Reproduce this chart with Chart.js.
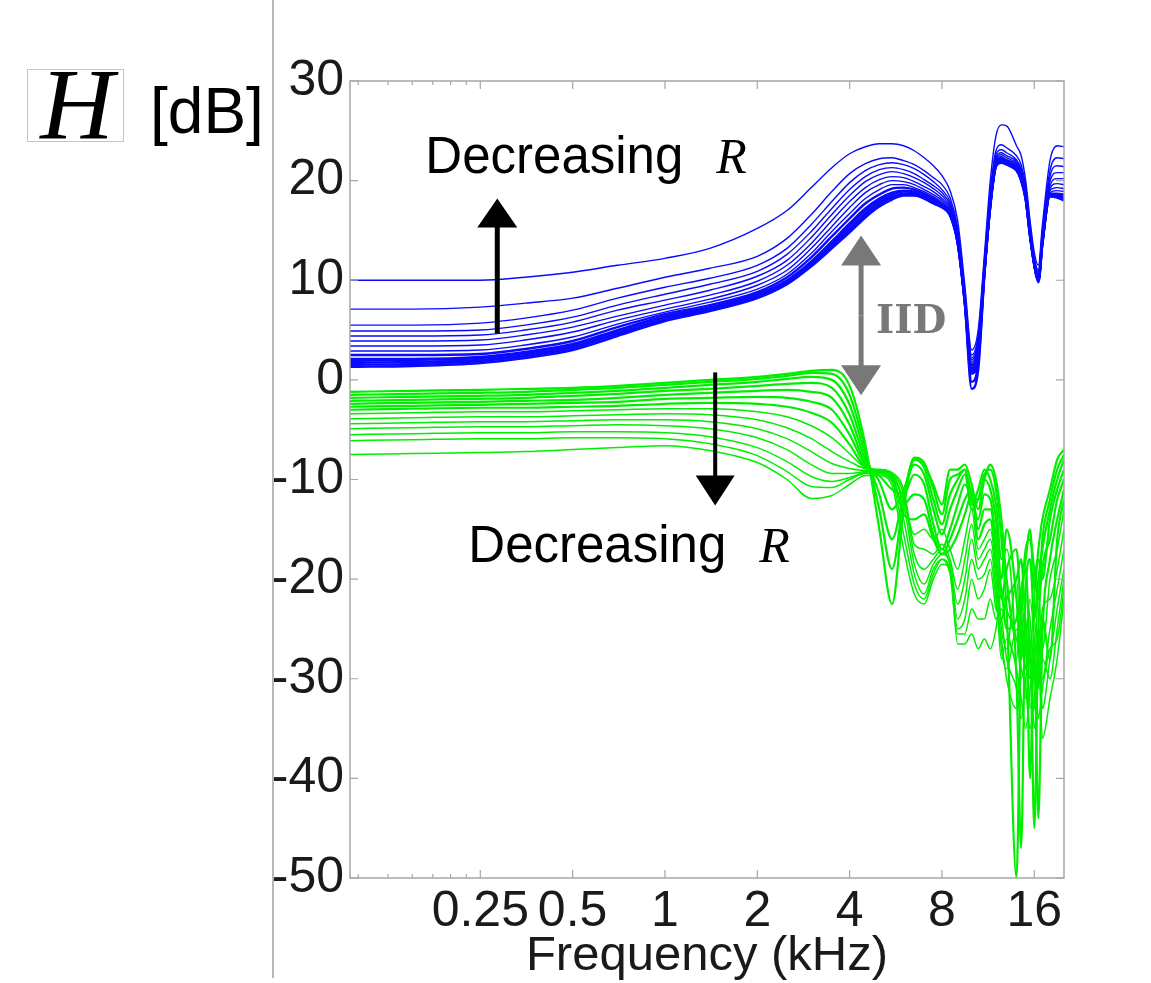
<!DOCTYPE html>
<html>
<head>
<meta charset="utf-8">
<title>H [dB] vs frequency</title>
<script src="https://cdn.jsdelivr.net/npm/chart.js@4.4.1/dist/chart.umd.min.js"></script>
<style>
  html, body { margin: 0; padding: 0; background: #fff; }
  #wrap { width: 1151px; height: 983px; }
</style>
</head>
<body>
<div id="wrap"><canvas id="chart" width="1151" height="983"></canvas></div>
<script>
// frequency grid, kHz
const freqs = [0.094, 0.15, 0.25, 0.35, 0.5, 0.7, 1, 1.4, 2, 2.5, 3, 3.5, 4, 4.5, 5, 5.5, 6, 6.5, 7, 7.5,
               8, 8.5, 9, 9.5, 10, 10.5, 11, 11.5, 12, 12.5, 13, 14, 14.5, 15, 15.5, 16, 16.5, 17, 18, 19, 20];

const xTicks = [0.25, 0.5, 1, 2, 4, 8, 16];
const xMinorTicks = [0.1, 0.125, 0.15, 0.175, 0.2, 0.225];
const yTicks = [30, 20, 10, 0, -10, -20, -30, -40, -50];

// near ear (blue), top curve first
const ipsi0  = [10.0, 10.0, 10.0, 10.3, 10.8, 11.5, 12.2, 13.2, 15.2, 17.0, 19.3, 21.3, 22.7, 23.4, 23.7, 23.7, 23.5, 23.0, 22.3, 21.5,
                20.5, 19.0, 16.0, 9.5, 3.0, 5.0, 12.5, 20.0, 24.5, 25.6, 25.5, 23.5, 22.5, 20.0, 16.0, 12.8, 11.5, 15.5, 22.0, 23.5, 23.4];
const ipsi1  = [7.1, 7.1, 7.3, 7.7, 8.2, 9.2, 10.3, 11.2, 12.4, 14.2, 16.6, 18.9, 20.7, 21.7, 22.2, 22.3, 22.0, 21.6, 21.0, 20.3,
                19.6, 18.3, 15.3, 9.0, 2.5, 4.5, 12.0, 19.0, 23.0, 23.6, 23.3, 22.5, 21.6, 19.5, 15.6, 12.3, 11.0, 15.0, 21.0, 22.3, 22.2];
const ipsi2  = [5.5, 5.5, 5.7, 6.2, 7.0, 8.2, 9.3, 10.2, 11.5, 13.2, 15.6, 17.9, 19.8, 21.0, 21.6, 21.8, 21.6, 21.2, 20.6, 19.9,
                19.1, 17.9, 15.0, 8.8, 2.2, 4.2, 11.7, 18.6, 22.6, 23.1, 22.8, 22.1, 21.2, 19.2, 15.4, 12.1, 10.8, 14.7, 20.4, 21.5, 21.4];
const ipsi3  = [4.9, 4.9, 5.0, 5.5, 6.3, 7.5, 8.6, 9.6, 10.9, 12.6, 14.9, 17.2, 19.1, 20.4, 21.1, 21.3, 21.1, 20.7, 20.1, 19.5,
                18.8, 17.6, 14.8, 8.6, 2.0, 4.0, 11.5, 18.4, 22.3, 22.8, 22.5, 21.9, 21.0, 19.0, 15.2, 12.0, 10.6, 14.5, 19.9, 20.8, 20.8];
const ipsi4  = [4.4, 4.4, 4.5, 5.0, 5.8, 7.0, 8.0, 9.0, 10.4, 12.0, 14.3, 16.6, 18.5, 19.9, 20.6, 20.9, 20.7, 20.3, 19.8, 19.2,
                18.5, 17.4, 14.6, 8.5, 1.8, 3.8, 11.3, 18.2, 22.1, 22.6, 22.3, 21.7, 20.8, 18.8, 15.1, 11.9, 10.5, 14.3, 19.5, 20.2, 20.2];
const ipsi5  = [3.9, 3.9, 4.0, 4.5, 5.3, 6.4, 7.5, 8.5, 9.9, 11.5, 13.7, 16.0, 17.9, 19.3, 20.1, 20.4, 20.3, 19.9, 19.4, 18.9,
                18.2, 17.2, 14.4, 8.3, 1.6, 3.6, 11.2, 18.0, 22.0, 22.4, 22.1, 21.6, 20.6, 18.7, 15.0, 11.8, 10.4, 14.2, 19.2, 19.7, 19.6];
const ipsi6  = [3.4, 3.4, 3.5, 4.0, 4.8, 6.0, 7.1, 8.1, 9.5, 11.0, 13.2, 15.4, 17.3, 18.8, 19.6, 20.0, 19.9, 19.6, 19.1, 18.6,
                18.0, 17.0, 14.2, 8.2, 1.5, 3.4, 11.1, 17.9, 21.9, 22.3, 22.0, 21.5, 20.5, 18.6, 14.9, 11.8, 10.3, 14.1, 19.0, 19.3, 19.2];
const ipsi7  = [2.9, 2.9, 3.0, 3.5, 4.3, 5.6, 6.8, 7.8, 9.1, 10.6, 12.7, 14.9, 16.7, 18.2, 19.1, 19.6, 19.6, 19.3, 18.9, 18.4,
                17.8, 16.9, 14.1, 8.1, 1.4, 3.2, 11.0, 17.8, 21.8, 22.2, 21.9, 21.4, 20.4, 18.5, 14.8, 11.7, 10.2, 14.0, 18.8, 19.0, 18.9];
const ipsi8  = [2.5, 2.5, 2.6, 3.1, 3.9, 5.3, 6.6, 7.5, 8.8, 10.3, 12.3, 14.4, 16.2, 17.7, 18.6, 19.2, 19.3, 19.1, 18.7, 18.2,
                17.6, 16.8, 14.0, 8.0, 1.2, 3.0, 10.9, 17.7, 21.7, 22.1, 21.8, 21.3, 20.3, 18.4, 14.7, 11.7, 10.1, 13.9, 18.7, 18.7, 18.6];
const ipsi9  = [2.1, 2.1, 2.3, 2.8, 3.6, 5.0, 6.4, 7.3, 8.6, 10.0, 11.9, 13.9, 15.7, 17.2, 18.2, 18.8, 19.0, 18.9, 18.5, 18.0,
                17.5, 16.7, 13.9, 7.9, 1.0, 2.7, 10.8, 17.6, 21.6, 22.0, 21.8, 21.2, 20.2, 18.3, 14.6, 11.6, 10.0, 13.8, 18.6, 18.5, 18.4];
const ipsi10 = [1.9, 2.0, 2.2, 2.7, 3.5, 4.9, 6.3, 7.2, 8.5, 9.9, 11.8, 13.7, 15.5, 17.0, 18.0, 18.6, 18.9, 18.8, 18.4, 17.9,
                17.5, 16.7, 13.9, 7.9, 0.8, 2.5, 10.8, 17.6, 21.6, 22.0, 21.8, 21.2, 20.2, 18.3, 14.6, 11.6, 10.0, 13.8, 18.6, 18.5, 18.3];
const ipsi11 = [1.7, 1.8, 2.0, 2.5, 3.3, 4.7, 6.1, 7.1, 8.4, 9.8, 11.6, 13.5, 15.2, 16.7, 17.8, 18.4, 18.7, 18.7, 18.3, 17.8,
                17.4, 16.6, 13.8, 7.8, 0.6, 2.3, 10.7, 17.5, 21.5, 21.9, 21.7, 21.1, 20.1, 18.2, 14.5, 11.6, 9.9, 13.7, 18.5, 18.4, 18.2];
const ipsi12 = [1.5, 1.6, 1.9, 2.4, 3.2, 4.6, 6.0, 7.0, 8.3, 9.7, 11.5, 13.4, 15.0, 16.5, 17.6, 18.3, 18.6, 18.6, 18.3, 17.8,
                17.4, 16.6, 13.8, 7.7, -0.2, 1.6, 10.6, 17.5, 21.5, 21.9, 21.7, 21.1, 20.1, 18.2, 14.5, 11.6, 9.9, 13.7, 18.5, 18.4, 18.1];
const ipsi13 = [1.3, 1.4, 1.7, 2.2, 3.0, 4.4, 5.9, 6.9, 8.2, 9.6, 11.4, 13.2, 14.8, 16.3, 17.4, 18.1, 18.5, 18.5, 18.2, 17.7,
                17.3, 16.5, 13.7, 7.6, -0.9, 1.0, 10.5, 17.4, 21.4, 21.8, 21.6, 21.0, 20.0, 18.1, 14.4, 11.5, 9.8, 13.6, 18.4, 18.3, 18.0];

// far ear (green), top curve first
const contra0  = [-1.2, -1.1, -1.0, -0.9, -0.8, -0.6, -0.3, 0.0, 0.3, 0.6, 0.9, 1.0, -0.6, -6.5, -15.0, -22.5, -13.0, -8.0, -8.5, -10.5,
                  -12.5, -9.0, -9.0, -8.5, -10.5, -13.0, -10.0, -8.5, -10.0, -14.0, -20.0, -26.0, -22.0, -18.0, -15.0, -21.0, -17.0, -14.0, -11.0, -8.0, -7.0];
const contra1  = [-1.5, -1.4, -1.3, -1.2, -1.0, -0.8, -0.5, -0.2, 0.1, 0.4, 0.7, 0.6, -1.5, -7.0, -13.0, -19.0, -12.0, -7.8, -8.3, -11.0,
                  -13.5, -10.0, -9.5, -9.0, -11.5, -12.0, -9.5, -9.0, -11.0, -16.0, -23.0, -50.0, -25.0, -17.0, -16.0, -19.0, -22.0, -16.0, -12.0, -9.0, -7.5];
const contra2  = [-1.8, -1.7, -1.6, -1.5, -1.3, -1.1, -0.8, -0.5, -0.2, 0.1, 0.3, 0.0, -2.5, -7.5, -11.5, -16.0, -11.5, -8.0, -8.8, -12.0,
                  -14.5, -11.5, -10.0, -9.0, -12.5, -11.0, -9.0, -10.0, -12.5, -18.0, -17.0, -30.0, -47.0, -21.0, -18.0, -24.0, -20.0, -17.0, -13.0, -10.0, -8.0];
const contra3  = [-2.1, -2.0, -1.9, -1.8, -1.6, -1.4, -1.1, -0.9, -0.6, -0.4, -0.3, -0.8, -3.5, -8.0, -10.2, -13.0, -11.0, -8.5, -9.5, -13.0,
                  -15.5, -13.0, -11.0, -9.5, -13.0, -12.0, -10.0, -11.0, -14.0, -20.0, -15.0, -22.0, -28.0, -24.0, -40.0, -22.0, -18.0, -20.0, -14.0, -11.0, -9.0];
const contra4  = [-2.4, -2.3, -2.2, -2.1, -2.0, -1.8, -1.5, -1.3, -1.1, -1.0, -1.2, -1.8, -4.5, -8.4, -9.6, -11.0, -11.5, -9.5, -10.5, -14.5,
                  -17.0, -15.0, -12.5, -10.5, -12.0, -14.0, -11.5, -12.0, -16.0, -22.0, -19.0, -17.0, -24.0, -29.0, -26.0, -45.0, -25.0, -19.0, -16.0, -12.0, -10.0];
const contra5  = [-2.7, -2.6, -2.5, -2.4, -2.3, -2.2, -1.9, -1.8, -1.7, -1.8, -2.2, -3.0, -5.5, -8.6, -9.3, -10.0, -12.5, -11.5, -12.0, -15.5,
                  -17.5, -16.0, -14.0, -12.0, -11.0, -15.0, -13.0, -13.0, -17.0, -24.0, -22.0, -20.0, -18.0, -25.0, -30.0, -28.0, -44.0, -26.0, -18.0, -14.0, -11.0];
const contra6  = [-3.0, -2.9, -2.8, -2.8, -2.7, -2.6, -2.4, -2.3, -2.4, -2.7, -3.3, -4.3, -6.5, -8.8, -9.2, -9.6, -13.5, -14.0, -13.5, -16.0,
                  -17.5, -17.0, -15.5, -13.5, -11.5, -16.0, -14.5, -14.0, -18.0, -21.0, -25.0, -24.0, -21.0, -19.0, -28.0, -33.0, -27.0, -24.0, -28.0, -16.0, -12.0];
const contra7  = [-3.4, -3.3, -3.2, -3.2, -3.1, -3.0, -2.9, -2.9, -3.2, -3.7, -4.6, -5.8, -7.4, -8.8, -9.0, -9.4, -12.0, -15.5, -15.0, -16.0,
                  -15.0, -17.0, -19.0, -16.0, -13.0, -17.0, -16.0, -15.0, -19.0, -25.0, -27.0, -20.0, -26.0, -22.0, -24.0, -30.0, -21.0, -27.0, -20.0, -17.0, -13.0];
const contra8  = [-3.9, -3.8, -3.7, -3.7, -3.6, -3.5, -3.4, -3.5, -4.0, -4.8, -5.9, -7.2, -8.2, -8.9, -9.0, -9.3, -11.0, -16.5, -17.0, -17.5,
                  -16.5, -18.0, -21.0, -18.0, -14.5, -18.0, -17.0, -16.0, -20.0, -27.0, -29.0, -25.0, -30.0, -27.0, -22.0, -26.0, -31.0, -23.0, -22.0, -19.0, -15.0];
const contra9  = [-4.4, -4.3, -4.2, -4.2, -4.1, -4.0, -4.0, -4.2, -4.9, -5.9, -7.2, -8.4, -8.9, -9.1, -9.0, -9.4, -11.5, -17.5, -19.0, -18.0,
                  -17.0, -18.5, -22.5, -20.0, -16.0, -19.0, -18.0, -17.0, -21.0, -28.0, -26.0, -28.0, -23.0, -32.0, -27.0, -24.0, -29.0, -30.0, -25.0, -21.0, -17.0];
const contra10 = [-4.9, -4.8, -4.7, -4.7, -4.6, -4.5, -4.6, -4.9, -5.8, -7.0, -8.5, -9.4, -9.4, -9.2, -9.1, -9.6, -12.5, -18.5, -20.5, -18.5,
                  -17.5, -18.5, -24.0, -22.0, -18.0, -20.0, -19.5, -18.0, -22.0, -26.0, -30.0, -33.0, -27.0, -25.0, -33.0, -29.0, -25.0, -33.0, -28.0, -23.0, -19.0];
const contra11 = [-5.5, -5.4, -5.3, -5.3, -5.2, -5.2, -5.3, -5.7, -6.8, -8.2, -9.7, -10.2, -9.8, -9.3, -9.2, -9.8, -14.0, -19.5, -21.5, -19.0,
                  -18.0, -19.0, -25.0, -24.0, -20.0, -22.0, -21.0, -19.0, -23.0, -24.0, -28.0, -31.0, -34.0, -30.0, -28.0, -35.0, -30.0, -28.0, -30.0, -25.0, -20.0];
const contra12 = [-6.1, -6.0, -5.9, -5.9, -5.8, -5.8, -5.9, -6.4, -7.6, -9.2, -10.7, -10.8, -10.0, -9.4, -9.4, -10.2, -15.5, -20.5, -22.0, -19.5,
                  -18.0, -19.5, -25.5, -25.5, -23.0, -24.0, -24.0, -22.0, -24.0, -23.0, -25.0, -29.0, -32.0, -35.0, -31.0, -27.0, -34.0, -31.0, -27.0, -26.0, -21.0];
const contra13 = [-7.5, -7.4, -7.3, -7.2, -7.0, -6.8, -6.6, -7.1, -8.3, -10.0, -11.9, -11.6, -10.5, -9.6, -9.6, -10.6, -17.0, -21.5, -22.5, -20.0,
                  -18.5, -19.0, -26.5, -26.5, -25.5, -27.0, -26.0, -27.0, -25.0, -21.0, -23.0, -26.0, -29.0, -31.0, -35.0, -32.0, -28.0, -36.0, -32.0, -28.0, -22.0];

const blueCurves = [ipsi0, ipsi1, ipsi2, ipsi3, ipsi4, ipsi5, ipsi6, ipsi7, ipsi8, ipsi9, ipsi10, ipsi11, ipsi12, ipsi13];
const greenCurves = [contra0, contra1, contra2, contra3, contra4, contra5, contra6, contra7,
                     contra8, contra9, contra10, contra11, contra12, contra13];

const SANS = '"Liberation Sans", Arial, Helvetica, sans-serif';
const SERIF = '"Liberation Serif", "Times New Roman", serif';
const INK = '#1a1a1a';

function toPoints(vals) {
    return freqs.map((f, i) => ({ x: f, y: vals[i] }));
}

function lineSet(vals, color, width) {
    return {
        data: toPoints(vals),
        borderColor: color,
        borderWidth: width,
        pointRadius: 0,
        fill: false,
        cubicInterpolationMode: 'monotone'
    };
}

const datasets = [];
// the bottom blue curves and top green curves sit in tight bundles
blueCurves.forEach((c, i) => datasets.push(lineSet(c, '#0a0aff', i >= 8 ? 2.4 : 1.4)));
greenCurves.forEach((c, i) => datasets.push(lineSet(c, '#00ee00', i <= 6 ? 2.2 : 1.5)));

// vertical arrow, tail -> tip, pixel coords
function arrow(c, x, yTail, yTip, headLen, halfW, shaftW, color) {
    const dir = Math.sign(yTip - yTail);
    const base = yTip - dir * headLen;
    c.strokeStyle = color;
    c.fillStyle = color;
    c.lineWidth = shaftW;
    c.beginPath();
    c.moveTo(x, yTail);
    c.lineTo(x, base + dir);
    c.stroke();
    c.beginPath();
    c.moveTo(x, yTip);
    c.lineTo(x - halfW, base);
    c.lineTo(x + halfW, base);
    c.closePath();
    c.fill();
}

const decor = {
    id: 'decor',
    beforeDraw(chart) {
        const c = chart.ctx;
        c.save();
        c.fillStyle = '#fff';
        c.fillRect(0, 0, chart.width, chart.height);
        c.restore();
    },
    afterDraw(chart) {
        const { ctx: c, chartArea: a } = chart;
        const x = chart.scales.x, y = chart.scales.y;
        const px = v => x.getPixelForValue(v);
        const py = v => y.getPixelForValue(v);
        c.save();

        // panel separator on the left
        c.strokeStyle = '#b8b8b8';
        c.lineWidth = 2;
        c.beginPath();
        c.moveTo(273, 0);
        c.lineTo(273, 978);
        c.stroke();

        // axes box + inward ticks
        c.strokeStyle = '#a6a6a6';
        c.lineWidth = 1.5;
        c.strokeRect(a.left, a.top, a.right - a.left, a.bottom - a.top);
        c.lineWidth = 1.2;
        c.beginPath();
        xTicks.forEach(v => {
            const p = px(v);
            c.moveTo(p, a.bottom); c.lineTo(p, a.bottom - 8);
            c.moveTo(p, a.top); c.lineTo(p, a.top + 8);
        });
        xMinorTicks.forEach(v => {
            const p = px(v);
            c.moveTo(p, a.bottom); c.lineTo(p, a.bottom - 4);
            c.moveTo(p, a.top); c.lineTo(p, a.top + 4);
        });
        yTicks.forEach(v => {
            const p = py(v);
            c.moveTo(a.left, p); c.lineTo(a.left + 8, p);
            c.moveTo(a.right, p); c.lineTo(a.right - 8, p);
        });
        c.stroke();

        // y label: boxed italic H + [dB]
        c.strokeStyle = '#c4c4c4';
        c.lineWidth = 1;
        c.strokeRect(27.5, 69.5, 96, 72);
        c.fillStyle = '#000';
        c.textBaseline = 'alphabetic';
        c.textAlign = 'center';
        c.font = 'italic 102px ' + SERIF;
        c.fillText('H', 77, 139);
        c.textAlign = 'left';
        c.font = '64px ' + SANS;
        c.fillText('[dB]', 150, 133);

        // annotations
        arrow(c, px(0.284), py(4.67), py(18.2), 29, 20, 5, '#000');
        arrow(c, px(1.458), py(0.75), py(-12.6), 30, 19.5, 4, '#000');

        const ix = px(4.36);
        const top = py(14.5), bot = py(-1.55);
        arrow(c, ix, (top + bot) / 2, top, 30, 20, 5, '#787878');
        arrow(c, ix, (top + bot) / 2, bot, 30, 20, 5, '#787878');

        c.fillStyle = '#000';
        c.font = '51px ' + SANS;
        c.fillText('Decreasing', px(0.1655), py(20.73));
        c.fillText('Decreasing', px(0.2285), py(-18.3));
        c.font = 'italic 50px ' + SERIF;
        c.fillText('R', px(1.47), py(20.73));
        c.fillText('R', px(2.03), py(-18.3));

        c.fillStyle = '#787878';
        c.font = 'bold 39px "DejaVu Serif", serif';
        c.fillText('IID', px(4.88), py(4.67));

        c.restore();
    }
};

new Chart(document.getElementById('chart').getContext('2d'), {
    type: 'line',
    data: { datasets: datasets },
    options: {
        responsive: false,
        animation: false,
        events: [],
        layout: { padding: { left: 0, right: 87, top: 81, bottom: 0 } },
        plugins: { legend: { display: false }, tooltip: { enabled: false } },
        scales: {
            x: {
                type: 'logarithmic',
                min: 0.094,
                max: 20,
                grid: { display: false, drawTicks: false },
                border: { display: false },
                afterBuildTicks: s => { s.ticks = xTicks.map(v => ({ value: v })); },
                afterFit: s => { s.height = 105; },
                ticks: {
                    autoSkip: false,
                    maxRotation: 0,
                    padding: 4,
                    color: INK,
                    font: { family: SANS, size: 50 },
                    callback: v => String(v)
                },
                title: {
                    display: true,
                    text: 'Frequency (kHz)',
                    color: INK,
                    font: { family: SANS, size: 49 },
                    padding: { top: 0, bottom: -3 }
                }
            },
            y: {
                min: -50,
                max: 30,
                grid: { display: false, drawTicks: false },
                border: { display: false },
                afterBuildTicks: s => { s.ticks = yTicks.map(v => ({ value: v })); },
                afterFit: s => { s.width = 350; },
                ticks: {
                    padding: 6,
                    color: INK,
                    font: { family: SANS, size: 50 },
                    callback: v => String(v)
                }
            }
        }
    },
    plugins: [decor]
});
</script>
</body>
</html>
